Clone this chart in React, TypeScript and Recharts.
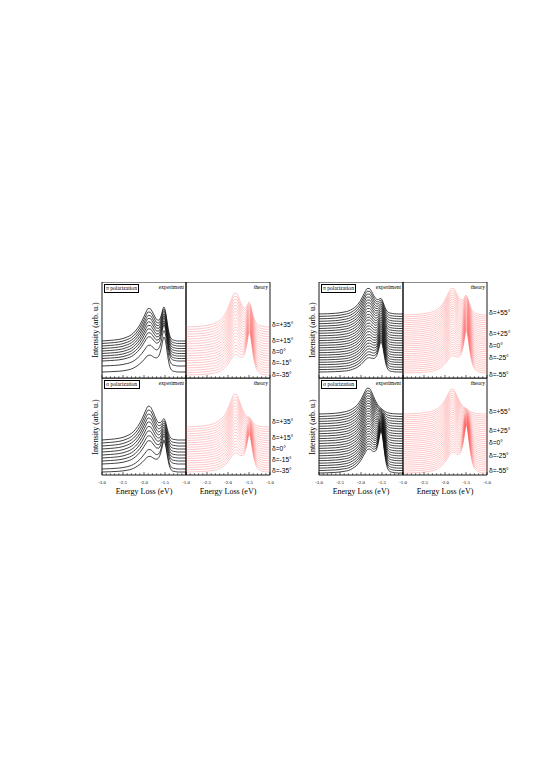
import React from "react";
import { LineChart, Line, XAxis, YAxis, ReferenceArea } from "recharts";

// energy grid (eV) on which the spectra are sampled
const energy = [-3.0, -2.8, -2.6, -2.5, -2.4, -2.3, -2.2, -2.1, -2.05, -2.0, -1.95, -1.9, -1.85, -1.8, -1.75, -1.7, -1.65, -1.6, -1.575, -1.55, -1.525, -1.5, -1.475, -1.45, -1.425, -1.4, -1.375, -1.35, -1.3, -1.25, -1.2, -1.15, -1.1, -1.0];

// peak shapes (1 = top of the peak)
const expLowPeak = [0, 0.02, 0.05, 0.08, 0.13, 0.2, 0.32, 0.5, 0.62, 0.76, 0.9, 1.0, 0.97, 0.85, 0.68, 0.5, 0.36, 0.25, 0.2, 0.16, 0.13, 0.1, 0.08, 0.06, 0.04, 0.03, 0.02, 0.015, 0.01, 0.005, 0, 0, 0, 0];
const expHighPeak = [0, 0, 0, 0, 0, 0, 0.01, 0.02, 0.025, 0.03, 0.04, 0.05, 0.07, 0.09, 0.13, 0.2, 0.32, 0.55, 0.72, 0.9, 1.0, 0.95, 0.8, 0.58, 0.38, 0.22, 0.12, 0.06, 0.02, 0.01, 0, 0, 0, 0];
const theoryLowPeak = [0, 0.01, 0.03, 0.05, 0.08, 0.12, 0.2, 0.33, 0.43, 0.56, 0.72, 0.88, 0.99, 0.98, 0.85, 0.66, 0.48, 0.33, 0.27, 0.22, 0.18, 0.15, 0.12, 0.1, 0.08, 0.065, 0.05, 0.04, 0.025, 0.015, 0.01, 0.005, 0, 0];
const theoryHighPeak = [0, 0, 0, 0, 0, 0, 0, 0.01, 0.015, 0.02, 0.03, 0.04, 0.05, 0.07, 0.1, 0.15, 0.24, 0.4, 0.52, 0.68, 0.86, 1.0, 0.97, 0.83, 0.64, 0.46, 0.32, 0.22, 0.1, 0.05, 0.025, 0.01, 0.005, 0];

const tickValues = [-3.0, -2.9, -2.8, -2.7, -2.6, -2.5, -2.4, -2.3, -2.2, -2.1, -2.0, -1.9, -1.8, -1.7, -1.6, -1.5, -1.4, -1.3, -1.2, -1.1, -1.0];
const majorTicks = [-3.0, -2.5, -2.0, -1.5, -1.0];

const deltaLeft = ["δ=+35°", "δ=+15°", "δ=0°", "δ=-15°", "δ=-35°"];
const deltaRight = ["δ=+55°", "δ=+25°", "δ=0°", "δ=-25°", "δ=-55°"];

// left figure, π polarization: baseline, low-energy peak, high-energy peak (arb. u.)
const piExpBase = [37, 34.5, 32, 29.5, 27, 24.5, 22, 19.5, 17, 12, 6];
const piExpLow = [31, 30, 29, 28.5, 27.5, 26.5, 25.5, 24, 22.5, 19, 15];
const piExpHigh = [30, 30.5, 31, 31, 31.5, 32, 32, 32.5, 33, 33, 33];
const piThBase = [51, 48.6, 46.2, 43.8, 41.4, 39, 36.6, 34.2, 31.8, 29.4, 27, 24.6, 22.2, 19.8, 17.4, 15, 12.6, 10.2, 7.8, 5.4, 3];
const piThLow = [33, 32.2, 31.5, 30.7, 30, 29.2, 28.5, 27.7, 27, 26.2, 25.5, 24.7, 24, 23.2, 22.5, 21.7, 21, 20.2, 19.5, 18.7, 18];
const piThHigh = [20, 21, 22, 23, 24, 25, 26, 27, 28, 29, 30, 31, 32, 33, 34, 35, 36, 37, 38, 39, 40];

// left figure, σ polarization
const sgExpBase = [35, 32, 29, 26, 23, 20, 17, 14, 11, 6, 3];
const sgExpLow = [33, 32, 31, 30, 29, 27.5, 26, 24, 22, 18, 14];
const sgExpHigh = [17, 18, 19, 20, 21, 22, 23, 24, 25, 27, 29];
const sgThBase = [48, 45.7, 43.5, 41.2, 39, 36.7, 34.5, 32.2, 30, 27.7, 25.5, 23.2, 21, 18.7, 16.5, 14.2, 12, 9.7, 7.5, 5.2, 3];
const sgThLow = [33, 32.2, 31.4, 30.6, 29.8, 29, 28.2, 27.4, 26.6, 25.8, 25, 24.2, 23.4, 22.6, 21.8, 21, 20.2, 19.4, 18.6, 17.8, 17];
const sgThHigh = [5, 6.5, 8, 9.5, 11, 12.5, 14, 15.5, 17, 18.5, 20, 21.5, 23, 24.5, 26, 27.5, 29, 30.5, 32, 33.5, 35];

// right figure, π polarization
const piExpBase2 = [64, 61.6, 59.2, 56.7, 54.3, 51.9, 49.5, 47.1, 44.7, 42.2, 39.8, 37.4, 35, 32.6, 30.2, 27.8, 25.3, 22.9, 20.5, 18.1, 15.7, 13.3, 10.8, 8.4, 6];
const piExpLow2 = [25, 24.5, 24, 23.5, 22.9, 22.4, 21.9, 21.4, 20.8, 20.3, 19.8, 19.3, 18.5, 18, 17.5, 17, 16.4, 15.9, 15.4, 14.9, 14.3, 13.8, 13.3, 12.8, 12];
const piExpHigh2 = [11, 11.7, 12.4, 13.1, 13.8, 14.5, 15.2, 15.9, 16.6, 17.4, 18, 18.8, 19.5, 20.2, 20.9, 21.6, 22.3, 23, 23.7, 24.4, 25.1, 25.9, 26.6, 27.3, 28];
const piThBase2 = [63, 61.1, 59.1, 57.2, 55.3, 53.3, 51.4, 49.5, 47.5, 45.6, 43.7, 41.7, 39.8, 37.9, 35.9, 34, 32.1, 30.1, 28.2, 26.3, 24.3, 22.4, 20.5, 18.5, 16.6, 14.7, 12.7, 10.8, 8.9, 6.9, 5];
const piThLow2 = [26, 25.6, 25.3, 24.9, 24.5, 24.2, 23.8, 23.4, 23.1, 22.7, 22.3, 22, 21.6, 21.2, 20.9, 20.5, 20.1, 19.8, 19.4, 19, 18.7, 18.3, 17.9, 17.6, 17.2, 16.8, 16.5, 16.1, 15.7, 15.4, 15];
const piThHigh2 = [16, 16.8, 17.6, 18.4, 19.2, 20, 20.8, 21.6, 22.4, 23.2, 24, 24.8, 25.6, 26.4, 27.2, 28, 28.8, 29.6, 30.4, 31.2, 32, 32.8, 33.6, 34.4, 35.2, 36, 36.8, 37.6, 38.4, 39.2, 40];

// right figure, σ polarization
const sgExpBase2 = [61, 58.5, 56.1, 53.6, 51.2, 48.7, 46.3, 43.8, 41.3, 38.9, 36.4, 34, 31.5, 29, 26.6, 24.1, 21.7, 19.2, 16.7, 14.3, 11.8, 9.4, 6.9, 4.5, 2];
const sgExpLow2 = [26, 25.8, 25.6, 25.4, 25.2, 25, 24.8, 24.6, 24.4, 24.2, 24, 23.8, 23.5, 23.3, 23.1, 22.9, 22.7, 22.5, 22.3, 22.1, 21.9, 21.7, 21.5, 21.3, 21];
const sgExpHigh2 = [1, 2.5, 4.1, 5.6, 7.2, 8.7, 10.3, 11.8, 13.3, 14.9, 16.4, 18, 19.5, 21, 22.6, 24.1, 25.7, 27.2, 28.8, 30.3, 31.8, 33.4, 34.9, 36.5, 38];
const sgThBase2 = [61, 59, 57.1, 55.1, 53.1, 51.2, 49.2, 47.2, 45.3, 43.3, 41.3, 39.4, 37.4, 35.4, 33.5, 31.5, 29.5, 27.6, 25.6, 23.6, 21.7, 19.7, 17.7, 15.8, 13.8, 11.8, 9.9, 7.9, 5.9, 4, 2];
const sgThLow2 = [25, 24.8, 24.5, 24.3, 24.1, 23.8, 23.6, 23.4, 23.1, 22.9, 22.7, 22.4, 22.2, 22, 21.7, 21.5, 21.3, 21, 20.8, 20.6, 20.3, 20.1, 19.9, 19.6, 19.4, 19.2, 18.9, 18.7, 18.5, 18.2, 18];
const sgThHigh2 = [2, 3.4, 4.9, 6.3, 7.7, 9.2, 10.6, 12, 13.5, 14.9, 16.3, 17.8, 19.2, 20.6, 22.1, 23.5, 24.9, 26.4, 27.8, 29.2, 30.7, 32.1, 33.5, 35, 36.4, 37.8, 39.3, 40.7, 42.1, 43.6, 45];

const SERIF = "'Liberation Serif', 'Times New Roman', serif";
const SANS = "'Liberation Sans', Arial, sans-serif";
const PW = 84;
const AXIS_H = 14;
const SIDE = 8; // room left and right of each panel so edge tick labels are not clipped

const isMajor = (v: number) => majorTicks.some((m) => Math.abs(m - v) < 1e-6);

const makeBottomTick = (labels: boolean, first: boolean) => (props: any) => {
  const { x, y, payload } = props;
  const v = payload.value as number;
  const major = isMajor(v);
  const show = labels && major && (first || v > -2.99);
  return (
    <g>
      <line x1={x} x2={x} y1={y} y2={y - (major ? 3 : 1.7)} stroke="#000" strokeWidth={0.6} />
      {show && (
        <text x={x} y={y + 8.5} textAnchor="middle" fontSize={4.8} fontFamily={SERIF} fill="#000">
          {v.toFixed(1)}
        </text>
      )}
    </g>
  );
};

const topTick = (props: any) => {
  const { x, y, payload } = props;
  const major = isMajor(payload.value);
  return <line x1={x} x2={x} y1={y} y2={y + (major ? 3 : 1.7)} stroke="#000" strokeWidth={0.6} />;
};

type PanelProps = {
  left: number;
  top: number;
  h: number;
  base: number[];
  low: number[];
  high: number[];
  lowShape: number[];
  highShape: number[];
  theory: boolean;
  labels: boolean;
};

function Panel({ left, top, h, base, low, high, lowShape, highShape, theory, labels }: PanelProps) {
  const data = energy.map((e, k) => {
    const row: Record<string, number> = { e };
    base.forEach((b, i) => {
      row["c" + i] = b + low[i] * lowShape[k] + high[i] * highShape[k];
    });
    return row;
  });
  return (
    <div style={{ position: "absolute", left: left - SIDE, top }}>
      <LineChart
        width={PW + 2 * SIDE}
        height={h + AXIS_H}
        data={data}
        margin={{ top: 0, right: SIDE, bottom: 0, left: SIDE }}
      >
        <XAxis
          xAxisId="b"
          dataKey="e"
          type="number"
          domain={[-3, -1]}
          ticks={tickValues}
          interval={0}
          height={AXIS_H}
          axisLine={false}
          tickLine={false}
          tickSize={0}
          tickMargin={0}
          tick={makeBottomTick(labels, !theory)}
        />
        <XAxis
          xAxisId="t"
          orientation="top"
          dataKey="e"
          type="number"
          domain={[-3, -1]}
          ticks={tickValues}
          interval={0}
          height={0}
          axisLine={false}
          tickLine={false}
          tickSize={0}
          tickMargin={0}
          tick={topTick}
        />
        <YAxis hide type="number" domain={[0, h]} />
        {base.map((_, i) => (
          <Line
            key={i}
            xAxisId="b"
            dataKey={"c" + i}
            type="monotone"
            dot={false}
            isAnimationActive={false}
            stroke={theory ? "#ff5a5a" : "#111"}
            strokeOpacity={theory ? 0.55 : 1}
            strokeWidth={theory ? 0.6 : 0.8}
          />
        ))}
        <ReferenceArea xAxisId="b" x1={-3} x2={-1} y1={0} y2={h} fill="none" stroke="#000" strokeWidth={0.9} />
      </LineChart>
    </div>
  );
}

const Txt = ({ x, y, size, font, children, anchor = "left" }: any) => (
  <div
    style={{
      position: "absolute",
      left: x,
      top: y,
      fontSize: size,
      fontFamily: font,
      lineHeight: 1,
      whiteSpace: "nowrap",
      color: "#000",
      transform: `translate(${anchor === "right" ? "-100%" : anchor === "center" ? "-50%" : "0"}, -50%)`,
    }}
  >
    {children}
  </div>
);

const Box = ({ x, y, children }: any) => (
  <div
    style={{
      position: "absolute",
      left: x,
      top: y,
      fontSize: 5.6,
      fontFamily: SERIF,
      lineHeight: "7px",
      padding: "0 1.5px",
      border: "0.7px solid #000",
      whiteSpace: "nowrap",
      background: "#fff",
    }}
  >
    {children}
  </div>
);

function Group({ x0, piE, piT, sgE, sgT, deltas, piY, sgY }: any) {
  const rowTop = 282;
  const rowMid = 378;
  return (
    <>
      <Panel left={x0} top={rowTop} h={96} {...piE} theory={false} labels={false} />
      <Panel left={x0 + PW} top={rowTop} h={96} {...piT} theory={true} labels={false} />
      <Panel left={x0} top={rowMid} h={97} {...sgE} theory={false} labels={true} />
      <Panel left={x0 + PW} top={rowMid} h={97} {...sgT} theory={true} labels={true} />
      <Box x={x0 + 1.5} y={rowTop + 2}>π polarization</Box>
      <Box x={x0 + 1.5} y={rowMid + 2}>σ polarization</Box>
      <Txt x={x0 + PW - 2} y={rowTop + 5.5} size={5.6} font={SERIF} anchor="right">experiment</Txt>
      <Txt x={x0 + 2 * PW - 2} y={rowTop + 5.5} size={5.6} font={SERIF} anchor="right">theory</Txt>
      <Txt x={x0 + PW - 2} y={rowMid + 5.5} size={5.6} font={SERIF} anchor="right">experiment</Txt>
      <Txt x={x0 + 2 * PW - 2} y={rowMid + 5.5} size={5.6} font={SERIF} anchor="right">theory</Txt>
      <Txt x={x0 + PW / 2} y={492} size={8} font={SERIF} anchor="center">Energy Loss (eV)</Txt>
      <Txt x={x0 + PW * 1.5} y={492} size={8} font={SERIF} anchor="center">Energy Loss (eV)</Txt>
      {[330, 427].map((cy) => (
        <div
          key={cy}
          style={{
            position: "absolute",
            left: x0 - 6,
            top: cy,
            fontSize: 8,
            fontFamily: SERIF,
            lineHeight: 1,
            whiteSpace: "nowrap",
            transform: "translate(-50%, -50%) rotate(-90deg)",
          }}
        >
          Intensity (arb. u.)
        </div>
      ))}
      {deltas.map((d: string, i: number) => (
        <Txt key={"p" + i} x={x0 + 2 * PW + 2} y={piY[i]} size={6.6} font={SANS}>{d}</Txt>
      ))}
      {deltas.map((d: string, i: number) => (
        <Txt key={"s" + i} x={x0 + 2 * PW + 2} y={sgY[i]} size={6.6} font={SANS}>{d}</Txt>
      ))}
    </>
  );
}

export default function App() {
  return (
    <div style={{ position: "absolute", left: 0, top: 0, width: 545, height: 770, background: "#fff", overflow: "hidden" }}>
      <Group
        x0={102}
        piE={{ base: piExpBase, low: piExpLow, high: piExpHigh, lowShape: expLowPeak, highShape: expHighPeak }}
        piT={{ base: piThBase, low: piThLow, high: piThHigh, lowShape: theoryLowPeak, highShape: theoryHighPeak }}
        sgE={{ base: sgExpBase, low: sgExpLow, high: sgExpHigh, lowShape: expLowPeak, highShape: expHighPeak }}
        sgT={{ base: sgThBase, low: sgThLow, high: sgThHigh, lowShape: theoryLowPeak, highShape: theoryHighPeak }}
        deltas={deltaLeft}
        piY={[325, 341, 352, 363, 375]}
        sgY={[422, 438, 449, 460, 471]}
      />
      <Group
        x0={319}
        piE={{ base: piExpBase2, low: piExpLow2, high: piExpHigh2, lowShape: theoryLowPeak, highShape: expHighPeak }}
        piT={{ base: piThBase2, low: piThLow2, high: piThHigh2, lowShape: theoryLowPeak, highShape: theoryHighPeak }}
        sgE={{ base: sgExpBase2, low: sgExpLow2, high: sgExpHigh2, lowShape: theoryLowPeak, highShape: expHighPeak }}
        sgT={{ base: sgThBase2, low: sgThLow2, high: sgThHigh2, lowShape: theoryLowPeak, highShape: theoryHighPeak }}
        deltas={deltaRight}
        piY={[313, 334, 346, 358, 375]}
        sgY={[412, 431, 443, 456, 471]}
      />
    </div>
  );
}
